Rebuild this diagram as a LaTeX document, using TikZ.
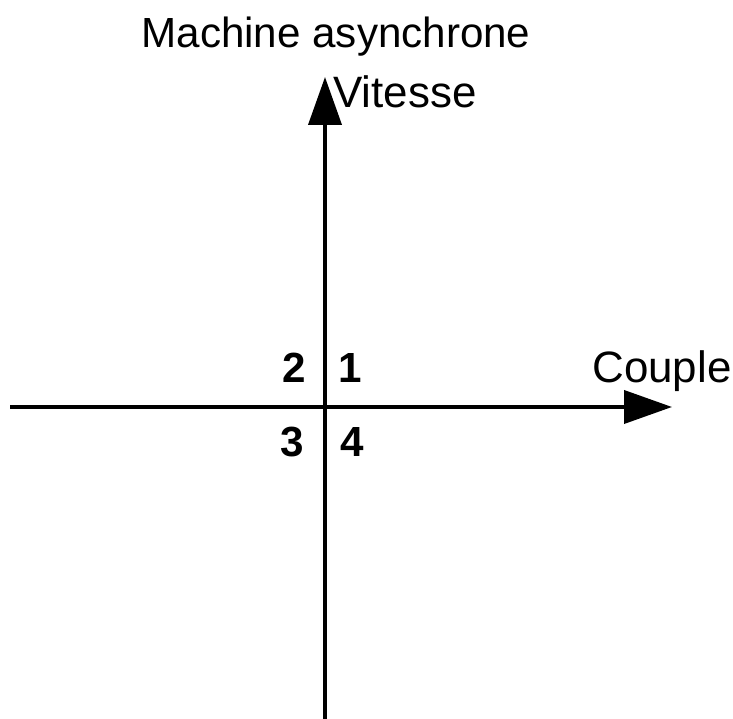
\documentclass[tikz,border=0pt]{standalone}
\usepackage{fontspec}
\setmainfont{Liberation Sans}
\usetikzlibrary{arrows.meta, positioning}

\begin{document}
\begin{tikzpicture}[x=0.02cm, y=0.02cm,
    axis/.style={line width=2.2pt, -{Triangle[length=0.96cm, width=0.66cm]}},
    lbl/.style={inner sep=0pt, font=\fontsize{25}{29}\selectfont},
    quad/.style={inner sep=0pt, font=\fontsize{24}{28}\selectfont\bfseries}]
    \useasboundingbox (0,0) rectangle (733,719);

    % axes
    \coordinate (o) at (325,312);
    \coordinate (west) at (10,312);
    \coordinate (east) at (672,312);
    \coordinate (south) at (325,0);
    \coordinate (north) at (325,642);
    \draw[axis] (west) -- (east);
    \draw[axis] (south) -- (north);

    % labels
    \node[lbl, anchor=base, font=\fontsize{24}{28}\selectfont] (titre) at (336,671) {Machine asynchrone};
    \node[lbl, anchor=base west] (vitesse) at (333,611) {Vitesse};
    \node[lbl, anchor=base west] (couple) at (592,336) {Couple};

    % quadrants
    \node[quad, anchor=base] (q1) at (350,336) {1};
    \node[quad, anchor=base] (q2) at (294,336) {2};
    \node[quad, anchor=base] (q3) at (292,262) {3};
    \node[quad, anchor=base] (q4) at (352,262) {4};
\end{tikzpicture}
\end{document}
